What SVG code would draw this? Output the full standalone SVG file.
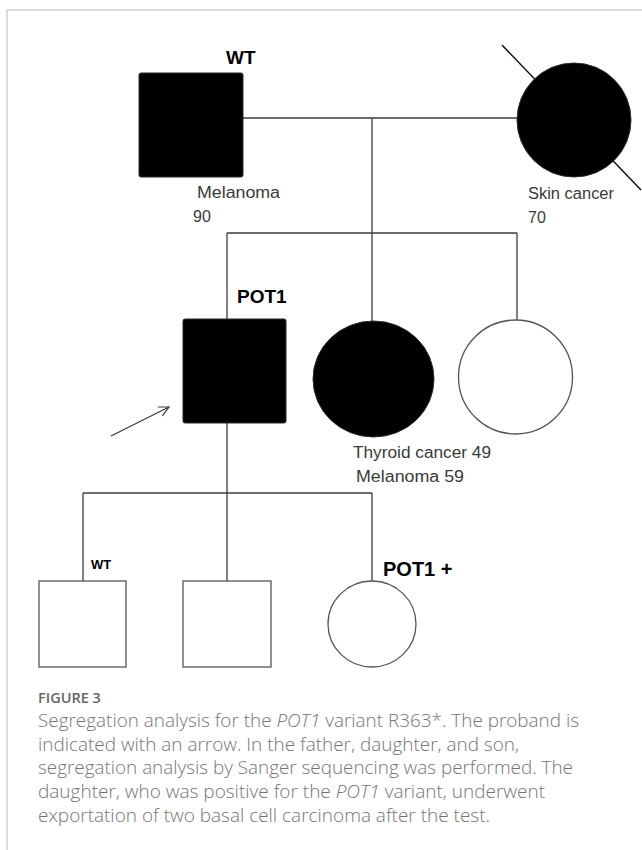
<svg xmlns="http://www.w3.org/2000/svg" width="642" height="850" viewBox="0 0 642 850">
<defs>
<style>
.ln{stroke:#3c3c3c;stroke-width:1.3;fill:none}
.fill{fill:#000;stroke:#2a2a2a;stroke-width:1}
.empty{fill:#fff;stroke:#555;stroke-width:1.3}
.lbl{font-family:"Liberation Sans",Arial,sans-serif;font-size:16px;fill:#3a3a3a}
.bold{font-family:"Liberation Sans",Arial,sans-serif;font-weight:bold;fill:#000}
.cap{font-family:"Open Sans","Liberation Sans",sans-serif;font-size:18.8px;font-weight:300;fill:#757575}
.fig{font-family:"Open Sans","Liberation Sans",sans-serif;font-size:14.5px;font-weight:600;fill:#666}
</style>
<marker id="arr" viewBox="0 0 12 12" refX="11" refY="6" markerWidth="12" markerHeight="12" markerUnits="userSpaceOnUse" orient="auto">
<path d="M1,1 L11,6 L1,11" fill="none" stroke="#3c3c3c" stroke-width="1.2"/>
</marker>
</defs>
<rect width="642" height="850" fill="#fff"/>
<path d="M7,850 V10 H642" fill="none" stroke="#cfcfcf" stroke-width="1.5"/>

<g id="connectors">
<line class="ln" x1="243" y1="118" x2="517" y2="118"/>
<line class="ln" x1="372" y1="118" x2="372" y2="321"/>
<line class="ln" x1="227" y1="233" x2="517" y2="233"/>
<line class="ln" x1="227" y1="233" x2="227" y2="319"/>
<line class="ln" x1="517" y1="233" x2="517" y2="320"/>
<line class="ln" x1="227" y1="423" x2="227" y2="581"/>
<line class="ln" x1="83" y1="493" x2="372" y2="493"/>
<line class="ln" x1="83" y1="493" x2="83" y2="581"/>
<line class="ln" x1="372" y1="493" x2="372" y2="581"/>
<line class="ln" x1="111" y1="436" x2="169" y2="407" marker-end="url(#arr)"/>
</g>

<g id="father">
<rect class="fill" x="139" y="73" width="104" height="104" rx="2"/>
<text class="bold" x="226" y="64" font-size="19">WT</text>
<text class="lbl" x="197" y="198" textLength="83" lengthAdjust="spacingAndGlyphs">Melanoma</text>
<text class="lbl" x="193" y="222">90</text>
</g>

<g id="mother">
<line x1="502" y1="45" x2="641" y2="190" stroke="#111" stroke-width="1.5"/>
<ellipse class="fill" cx="574" cy="120" rx="57" ry="57"/>
<text class="lbl" x="528" y="199" textLength="86" lengthAdjust="spacingAndGlyphs">Skin cancer</text>
<text class="lbl" x="528" y="223">70</text>
</g>

<g id="proband">
<rect class="fill" x="183" y="319" width="103" height="104" rx="2"/>
<text class="bold" x="237" y="303" font-size="19">POT1</text>
</g>

<g id="sister-affected">
<ellipse class="fill" cx="373.5" cy="379" rx="60.5" ry="58"/>
<text class="lbl" x="353" y="458" textLength="138" lengthAdjust="spacingAndGlyphs">Thyroid cancer 49</text>
<text class="lbl" x="356" y="482" textLength="108" lengthAdjust="spacingAndGlyphs">Melanoma 59</text>
</g>

<g id="sister-unaffected">
<ellipse class="empty" cx="515.5" cy="377" rx="57" ry="57"/>
</g>

<g id="son">
<rect class="empty" x="39" y="581" width="87" height="86"/>
<text class="bold" x="91" y="569" font-size="13">WT</text>
</g>

<g id="child2">
<rect class="empty" x="183" y="581" width="88" height="86"/>
</g>

<g id="daughter">
<ellipse class="empty" cx="372" cy="624" rx="44" ry="43"/>
<text class="bold" x="383" y="576" font-size="20">POT1 +</text>
</g>

<g id="caption">
<text class="fig" x="38" y="703">FIGURE 3</text>
<text class="cap" x="38" y="727" textLength="541" lengthAdjust="spacingAndGlyphs">Segregation analysis for the <tspan font-style="italic">POT1</tspan> variant R363*. The proband is</text>
<text class="cap" x="38" y="750.5" textLength="481" lengthAdjust="spacingAndGlyphs">indicated with an arrow. In the father, daughter, and son,</text>
<text class="cap" x="38" y="774" textLength="535" lengthAdjust="spacingAndGlyphs">segregation analysis by Sanger sequencing was performed. The</text>
<text class="cap" x="38" y="797.5" textLength="507" lengthAdjust="spacingAndGlyphs">daughter, who was positive for the <tspan font-style="italic">POT1</tspan> variant, underwent</text>
<text class="cap" x="38" y="821.5" textLength="452" lengthAdjust="spacingAndGlyphs">exportation of two basal cell carcinoma after the test.</text>
</g>
</svg>
